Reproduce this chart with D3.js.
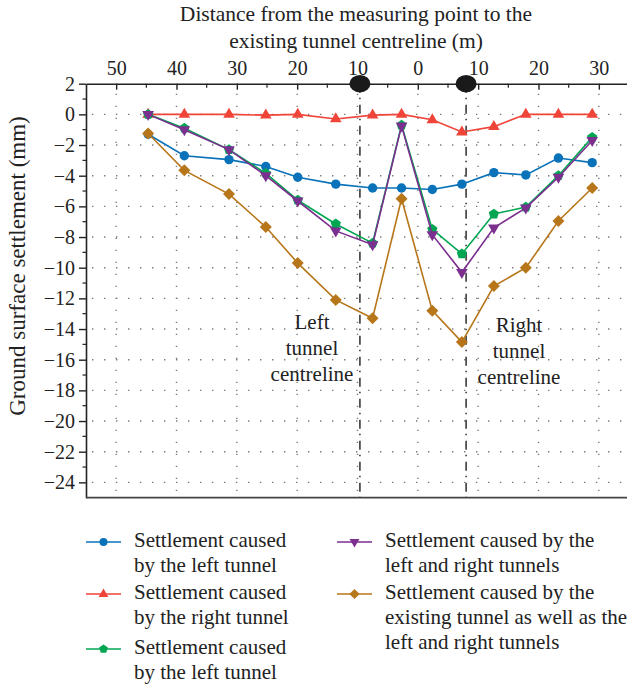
<!DOCTYPE html>
<html>
<head>
<meta charset="utf-8">
<script src="https://cdn.jsdelivr.net/npm/d3@7"></script>
<style>
  html, body { margin: 0; padding: 0; background: #fff; }
  svg { display: block; }
</style>
</head>
<body>
<div id="chart"></div>
<script>
// Measuring points: signed distance to existing tunnel centreline (m), left is negative
const distances = [-44.7, -38.7, -31.3, -25.2, -19.9, -13.6, -7.5, -2.7, 2.4, 7.3, 12.6, 17.9, 23.3, 28.9];

// Settlement values (mm) per case
const leftTunnel     = [-1.3, -2.7, -2.95, -3.4, -4.1, -4.55, -4.8, -4.8, -4.9, -4.55, -3.8, -3.95, -2.85, -3.15];
const rightTunnel    = [0, 0, 0, -0.05, 0, -0.3, -0.05, 0, -0.35, -1.15, -0.8, 0, 0, 0];
const leftTunnel2    = [0, -0.9, -2.3, -3.85, -5.6, -7.15, -8.4, -0.7, -7.5, -9.1, -6.5, -6.05, -4.0, -1.5];
const bothTunnels    = [0, -1.0, -2.3, -4.0, -5.65, -7.6, -8.5, -0.75, -7.85, -10.3, -7.4, -6.1, -4.1, -1.7];
const allTunnels     = [-1.25, -3.65, -5.2, -7.35, -9.7, -12.1, -13.3, -5.5, -12.8, -14.85, -11.2, -10.0, -6.95, -4.8];

// Axis ticks
const xMajorTicks = [-50, -40, -30, -20, -10, 0, 10, 20, 30];
const xMinorTicks = [-55, -45, -35, -25, -15, -5, 5, 15, 25];
const yMajorTicks = [2, 0, -2, -4, -6, -8, -10, -12, -14, -16, -18, -20, -22, -24];
const yMinorTicks = [1, -1, -3, -5, -7, -9, -11, -13, -15, -17, -19, -21, -23];
const yGridValues = [0, -2, -4, -6, -8, -10, -12, -14, -16, -18, -20, -22, -24];

// Tunnel centrelines (m)
const tunnelCentres = [-9.6, 8.0];

const series = [
  { name: ['Settlement caused', 'by the left tunnel'], values: leftTunnel, color: '#0a72b9', shape: 'circle' },
  { name: ['Settlement caused', 'by the right tunnel'], values: rightTunnel, color: '#ef4438', shape: 'triangle' },
  { name: ['Settlement caused', 'by the left tunnel'], values: leftTunnel2, color: '#00a651', shape: 'pentagon' },
  { name: ['Settlement caused by the', 'left and right tunnels'], values: bothTunnels, color: '#7b2f8f', shape: 'triangleDown' },
  { name: ['Settlement caused by the', 'existing tunnel as well as the', 'left and right tunnels'], values: allTunnels, color: '#b8761a', shape: 'diamond' }
];

const FONT = '"Liberation Serif", "Times New Roman", Times, serif';
const width = 627;
const height = 686;
const plot = { left: 86, right: 629, top: 83.7, bottom: 497.7 };

const svg = d3.select('#chart')
  .append('svg')
  .attr('width', width)
  .attr('height', height)
  .attr('font-family', FONT);

const x = d3.scaleLinear().domain([-55, 35]).range([plot.left, plot.right]);
const y = d3.scaleLinear().domain([-25, 2]).range([plot.bottom, plot.top]);

// marker paths centred on 0,0
function markerPath(shape) {
  if (shape === 'circle') {
    const r = 4.7;
    return `M${r},0A${r},${r} 0 1,1 ${-r},0A${r},${r} 0 1,1 ${r},0Z`;
  }
  if (shape === 'triangle') return 'M0,-6.6L5.8,3.4L-5.8,3.4Z';
  if (shape === 'triangleDown') return 'M0,6.6L5.8,-3.4L-5.8,-3.4Z';
  if (shape === 'diamond') return 'M0,-6L6,0L0,6L-6,0Z';
  if (shape === 'pentagon') {
    const r = 5.4;
    const pts = d3.range(5).map(i => {
      const a = -Math.PI / 2 + i * 2 * Math.PI / 5;
      return [r * Math.cos(a), r * Math.sin(a)];
    });
    return 'M' + pts.map(p => p.join(',')).join('L') + 'Z';
  }
}

// Dotted grid
const grid = svg.append('g')
  .attr('stroke', '#7a7a7a')
  .attr('stroke-width', 1.4)
  .attr('stroke-dasharray', '1.4,10.6');

grid.selectAll('.hgrid')
  .data(yGridValues)
  .enter()
  .append('line')
  .attr('x1', plot.left + 6)
  .attr('x2', width)
  .attr('y1', d => y(d))
  .attr('y2', d => y(d));

grid.selectAll('.vgrid')
  .data(xMajorTicks)
  .enter()
  .append('line')
  .attr('x1', d => x(d))
  .attr('x2', d => x(d))
  .attr('y1', plot.top + 10)
  .attr('y2', plot.bottom);

// Tunnel centrelines (dash-dot)
svg.selectAll('.centre')
  .data(tunnelCentres)
  .enter()
  .append('line')
  .attr('x1', d => x(d))
  .attr('x2', d => x(d))
  .attr('y1', plot.top)
  .attr('y2', plot.bottom)
  .attr('stroke', '#3a3a3a')
  .attr('stroke-width', 1.6)
  .attr('stroke-dasharray', '9,5,1.5,5.5');

// Top axis
const topAxis = svg.append('g')
  .attr('transform', `translate(0,${plot.top})`)
  .call(d3.axisTop(x)
    .tickValues(xMajorTicks)
    .tickFormat(d => Math.abs(d))
    .tickSizeInner(-6)
    .tickSizeOuter(0)
    .tickPadding(9))
  .attr('font-family', FONT)
  .attr('font-size', 20);

topAxis.selectAll('.tick line').attr('stroke', '#222').attr('stroke-width', 1.4);
topAxis.select('.domain').attr('stroke', '#222').attr('stroke-width', 1.6);
topAxis.selectAll('text').attr('fill', '#222');

svg.append('g')
  .selectAll('line')
  .data(xMinorTicks.filter(d => x(d) > plot.left))
  .enter()
  .append('line')
  .attr('x1', d => x(d))
  .attr('x2', d => x(d))
  .attr('y1', plot.top)
  .attr('y2', plot.top + 4)
  .attr('stroke', '#222')
  .attr('stroke-width', 1.2);

// Left axis
const leftAxis = svg.append('g')
  .attr('transform', `translate(${plot.left},0)`)
  .call(d3.axisLeft(y)
    .tickValues(yMajorTicks)
    .tickSizeInner(7)
    .tickSizeOuter(0)
    .tickPadding(4))
  .attr('font-family', FONT)
  .attr('font-size', 20);

leftAxis.selectAll('.tick line').attr('stroke', '#222').attr('stroke-width', 1.4);
leftAxis.select('.domain').attr('stroke', '#222').attr('stroke-width', 1.6);
leftAxis.selectAll('text').attr('fill', '#222');

svg.append('g')
  .selectAll('line')
  .data(yMinorTicks)
  .enter()
  .append('line')
  .attr('x1', plot.left - 3.5)
  .attr('x2', plot.left)
  .attr('y1', d => y(d))
  .attr('y2', d => y(d))
  .attr('stroke', '#222')
  .attr('stroke-width', 1.2);

// Bottom line
svg.append('line')
  .attr('x1', plot.left)
  .attr('x2', width)
  .attr('y1', plot.bottom)
  .attr('y2', plot.bottom)
  .attr('stroke', '#444')
  .attr('stroke-width', 1.8);

// Tunnel symbols on the top axis
svg.selectAll('.tunnel')
  .data(tunnelCentres)
  .enter()
  .append('ellipse')
  .attr('cx', d => x(d))
  .attr('cy', plot.top)
  .attr('rx', 10.5)
  .attr('ry', 8.7)
  .attr('fill', '#1a1a1a');

// Axis titles
const title = svg.append('text')
  .attr('x', 356)
  .attr('text-anchor', 'middle')
  .attr('font-size', '21.5px')
  .attr('fill', '#222');
title.append('tspan').attr('x', 356).attr('y', 21).text('Distance from the measuring point to the');
title.append('tspan').attr('x', 356).attr('y', 48).text('existing tunnel centreline (m)');

svg.append('text')
  .attr('transform', 'translate(25,266) rotate(-90)')
  .attr('text-anchor', 'middle')
  .attr('font-size', '23px')
  .attr('fill', '#222')
  .text('Ground surface settlement (mm)');

// Tunnel annotations
const notes = [
  { lines: ['Left', 'tunnel', 'centreline'], cx: 312, y0: 329 },
  { lines: ['Right', 'tunnel', 'centreline'], cx: 519, y0: 332 }
];
notes.forEach(n => {
  const t = svg.append('text')
    .attr('text-anchor', 'middle')
    .attr('font-size', '21px')
    .attr('fill', '#222');
  n.lines.forEach((l, i) => {
    t.append('tspan').attr('x', n.cx).attr('y', n.y0 + i * 26).text(l);
  });
});

// Series lines and markers
const line = d3.line()
  .x((d, i) => x(distances[i]))
  .y(d => y(d));

series.forEach(s => {
  const g = svg.append('g');
  g.append('path')
    .attr('d', line(s.values))
    .attr('fill', 'none')
    .attr('stroke', s.color)
    .attr('stroke-width', 1.6);
  g.selectAll('path.marker')
    .data(s.values)
    .enter()
    .append('path')
    .attr('class', 'marker')
    .attr('transform', (d, i) => `translate(${x(distances[i])},${y(d)})`)
    .attr('d', markerPath(s.shape))
    .attr('fill', s.color);
});

// Legend
const legendPos = [
  { lx: 86, tx: 134, y: 547 },
  { lx: 86, tx: 134, y: 599 },
  { lx: 86, tx: 134, y: 654 },
  { lx: 337, tx: 385, y: 547 },
  { lx: 337, tx: 385, y: 599 }
];

series.forEach((s, i) => {
  const p = legendPos[i];
  const g = svg.append('g');
  g.append('line')
    .attr('x1', p.lx)
    .attr('x2', p.lx + 35)
    .attr('y1', p.y - 5)
    .attr('y2', p.y - 5)
    .attr('stroke', s.color)
    .attr('stroke-width', 1.6);
  g.append('path')
    .attr('transform', `translate(${p.lx + 17.5},${p.y - 5}) scale(0.85)`)
    .attr('d', markerPath(s.shape))
    .attr('fill', s.color);
  const t = g.append('text')
    .attr('font-size', '21px')
    .attr('fill', '#222');
  s.name.forEach((l, j) => {
    t.append('tspan').attr('x', p.tx).attr('y', p.y + j * 25).text(l);
  });
});
</script>
</body>
</html>
